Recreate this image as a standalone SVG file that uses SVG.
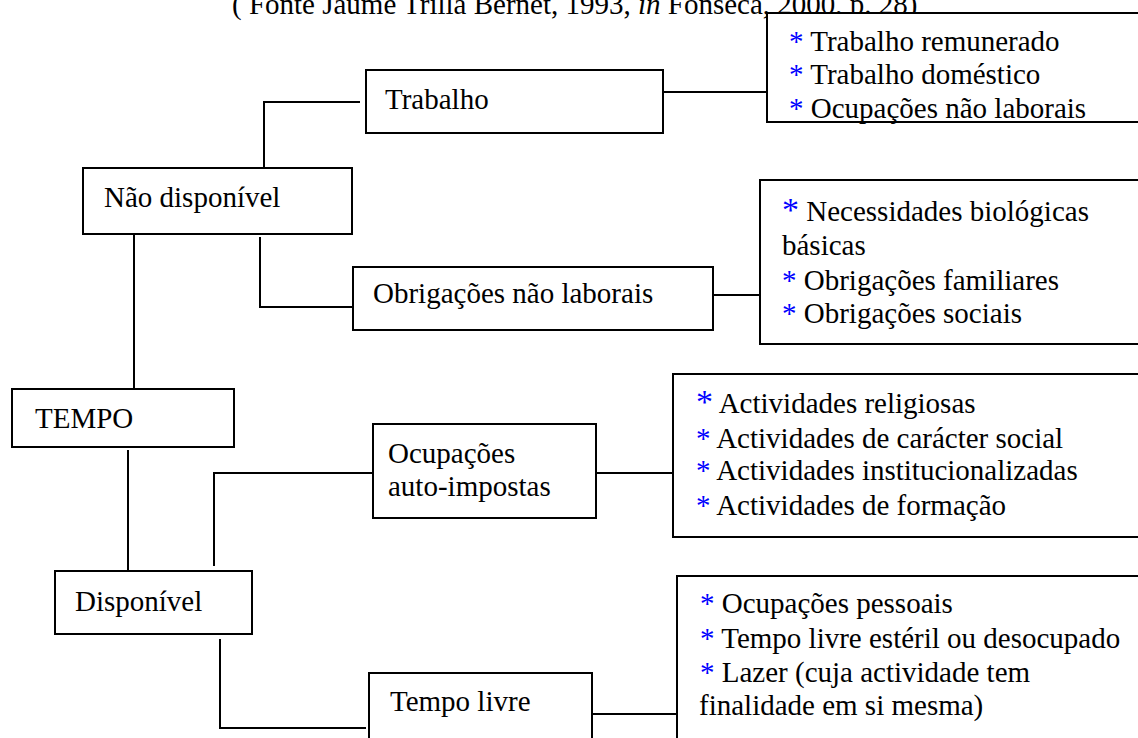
<svg xmlns="http://www.w3.org/2000/svg" width="1138" height="738" viewBox="0 0 1138 738">
<style>
text{font-family:"Liberation Serif","Times New Roman",serif;font-size:29px;fill:#000}
.box{fill:#fff;stroke:#000;stroke-width:2}
.ln{fill:none;stroke:#000;stroke-width:2}
.ast{fill:#0000ff}
.big{font-size:34px}
</style>
<rect width="1138" height="738" fill="#fff"/>
<text id="title" x="232" y="14">( Fonte Jaume Trilla Bernet, 1993, <tspan font-style="italic">in</tspan> Fonseca, 2000, p. 28)</text>
<g id="connectors">
<polyline class="ln" points="264,168 264,102 360,102"/>
<line class="ln" x1="663" y1="92" x2="767" y2="92"/>
<polyline class="ln" points="260,237 260,307 353,307"/>
<line class="ln" x1="713" y1="295" x2="760" y2="295"/>
<line class="ln" x1="134" y1="234" x2="134" y2="389"/>
<line class="ln" x1="128" y1="450" x2="128" y2="571"/>
<polyline class="ln" points="214,566 214,473 373,473"/>
<line class="ln" x1="596" y1="473" x2="673" y2="473"/>
<polyline class="ln" points="220,639 220,728 366,728"/>
<line class="ln" x1="593" y1="714" x2="677" y2="714"/>
</g>
<g id="trabalho">
<rect class="box" x="366" y="70" width="297" height="63"/>
<text x="385" y="109">Trabalho</text>
</g>
<g id="trabalho-list">
<rect class="box" x="767" y="13" width="400" height="109"/>
<text x="789" y="51"><tspan class="ast">*</tspan> Trabalho remunerado</text>
<text x="789" y="84"><tspan class="ast">*</tspan> Trabalho doméstico</text>
<text x="789" y="118"><tspan class="ast">*</tspan> Ocupações não laborais</text>
</g>
<g id="nao-disponivel">
<rect class="box" x="83" y="168" width="269" height="66"/>
<text x="104" y="207">Não disponível</text>
</g>
<g id="obrigacoes">
<rect class="box" x="353" y="267" width="360" height="63"/>
<text x="373" y="303">Obrigações não laborais</text>
</g>
<g id="obrigacoes-list">
<rect class="box" x="760" y="180" width="400" height="164"/>
<text x="782" y="221"><tspan class="ast big">*</tspan> Necessidades biológicas</text>
<text x="782" y="255">básicas</text>
<text x="782" y="290"><tspan class="ast">*</tspan> Obrigações familiares</text>
<text x="782" y="323"><tspan class="ast">*</tspan> Obrigações sociais</text>
</g>
<g id="tempo">
<rect class="box" x="12" y="389" width="222" height="58"/>
<text x="35" y="428">TEMPO</text>
</g>
<g id="ocupacoes">
<rect class="box" x="373" y="424" width="223" height="94"/>
<text x="388" y="463">Ocupações</text>
<text x="388" y="496">auto-impostas</text>
</g>
<g id="ocupacoes-list">
<rect class="box" x="673" y="374" width="480" height="163"/>
<text x="696" y="413"><tspan class="ast big">*</tspan> Actividades religiosas</text>
<text x="696" y="448"><tspan class="ast">*</tspan> Actividades de carácter social</text>
<text x="696" y="480"><tspan class="ast">*</tspan> Actividades institucionalizadas</text>
<text x="696" y="515"><tspan class="ast">*</tspan> Actividades de formação</text>
</g>
<g id="disponivel">
<rect class="box" x="55" y="571" width="197" height="63"/>
<text x="75" y="611">Disponível</text>
</g>
<g id="tempo-livre">
<rect class="box" x="369" y="673" width="223" height="80"/>
<text x="390" y="711">Tempo livre</text>
</g>
<g id="tempo-livre-list">
<rect class="box" x="677" y="576" width="480" height="180"/>
<text x="700" y="613"><tspan class="ast">*</tspan> Ocupações pessoais</text>
<text x="700" y="648"><tspan class="ast">*</tspan> Tempo livre estéril ou desocupado</text>
<text x="700" y="682"><tspan class="ast">*</tspan> Lazer (cuja actividade tem</text>
<text x="699" y="715">finalidade em si mesma)</text>
</g>
</svg>
